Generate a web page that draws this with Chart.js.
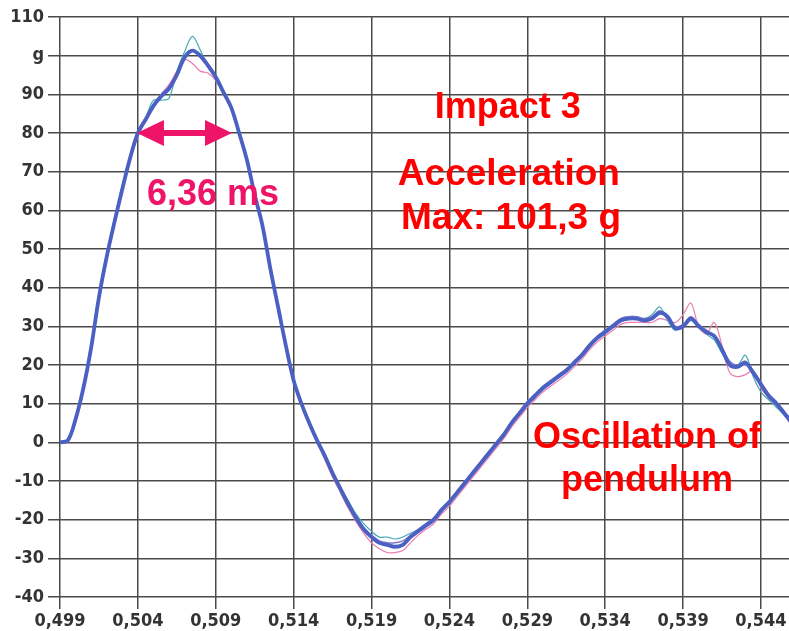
<!DOCTYPE html>
<html>
<head>
<meta charset="utf-8">
<script src="https://cdn.jsdelivr.net/npm/chart.js@4.4.1/dist/chart.umd.min.js"></script>
<style>
    html, body { margin: 0; padding: 0; background: #fff; overflow: hidden; }
</style>
</head>
<body>
<canvas id="chart" width="789" height="631"></canvas>
<script>
"use strict";

// time in s (x axis)
const times = [
    0.4990, 0.4995, 0.5000, 0.5005, 0.5010, 0.5015, 0.5020, 0.5025, 0.5030, 0.5035,
    0.5040, 0.5045, 0.5050, 0.5055, 0.5060, 0.5065, 0.5070, 0.5075, 0.5080, 0.5085,
    0.5090, 0.5095, 0.5100, 0.5105, 0.5110, 0.5115, 0.5120, 0.5125, 0.5130, 0.5135,
    0.5140, 0.5145, 0.5150, 0.5155, 0.5160, 0.5165, 0.5170, 0.5175, 0.5180, 0.5185,
    0.5190, 0.5195, 0.5200, 0.5205, 0.5210, 0.5215, 0.5220, 0.5225, 0.5230, 0.5235,
    0.5240, 0.5245, 0.5250, 0.5255, 0.5260, 0.5265, 0.5270, 0.5275, 0.5280, 0.5285,
    0.5290, 0.5295, 0.5300, 0.5305, 0.5310, 0.5315, 0.5320, 0.5325, 0.5330, 0.5335,
    0.5340, 0.5345, 0.5350, 0.5355, 0.5360, 0.5365, 0.5370, 0.5375, 0.5380, 0.5385,
    0.5390, 0.5395, 0.5400, 0.5405, 0.5410, 0.5415, 0.5420, 0.5425, 0.5430, 0.5435,
    0.5440, 0.5445, 0.5450, 0.5455, 0.5460
];

// acceleration in g, main (thick blue) trace
const accelMain = [
    0, 0.5, 6, 14, 24.5, 37.5, 48, 57, 65.5, 73.5,
    80, 83.5, 87, 89.5, 91.5, 95, 99.5, 101.3, 100, 97.5,
    94.5, 90.5, 86.5, 80, 73, 64, 56, 45, 35, 25,
    16, 10, 5, 0.5, -3.5, -8, -12, -16, -19.5, -22.5,
    -24.5, -26, -26.5, -27, -26.5, -24.5, -23, -21.5, -20, -17.5,
    -15.5, -13, -10.5, -8, -5.5, -3, -0.5, 2, 5, 7.5,
    10, 12, 14, 15.5, 17, 18.5, 20.5, 22.5, 25, 27,
    28.5, 30, 31.5, 32, 32, 31.5, 32, 33.5, 32.5, 29.5,
    30, 32, 30, 28.5, 27.5, 24, 20, 19.5, 20.5, 18,
    15, 12, 10, 7.5, 5
];

const accelViolet = [
    0, 0.5, 6, 14.5, 25, 38, 48.5, 57.5, 66, 74,
    80.5, 84, 87.5, 90, 92, 95.5, 100, 101.5, 99.5, 97,
    94, 90.5, 86.5, 80, 73, 64.5, 56, 45, 35, 25,
    16, 10, 5, 0.5, -3.5, -7.5, -11.5, -15.5, -19, -22,
    -24, -25.5, -26, -26, -25.5, -24, -22.5, -21, -19.5, -17,
    -15, -12.5, -10, -7.5, -5, -2.5, 0, 2.5, 5.5, 8,
    10.5, 12.5, 14.5, 16, 17.5, 19, 21, 23, 25.5, 27.5,
    29, 30.5, 32, 32.5, 32.5, 32, 32.5, 34, 32.5, 30,
    30.5, 32.5, 30.5, 29, 27.5, 24.5, 21, 20, 21, 18.5,
    15.5, 12.5, 10.5, 8, 5.5
];

const accelCyan = [
    0, 0.5, 6.5, 15, 25.5, 38.5, 49, 58, 66.5, 74,
    80.5, 84, 88.5, 88.5, 89, 96, 101, 105, 101.5, 97,
    94, 90, 86, 79.5, 72.5, 63.5, 55.5, 44.5, 35, 25.5,
    16.5, 10.5, 5.5, 1, -3, -7.5, -11.5, -15, -18.5, -21,
    -23, -24.5, -24.5, -25, -24.5, -23.5, -22.5, -21, -19.5, -17,
    -15, -12.5, -10, -7.5, -5, -2.5, 0, 2.5, 5.5, 8,
    10.5, 12.5, 14.5, 16, 17.5, 19, 21, 23, 25.5, 27.5,
    29, 30.5, 32, 32.5, 32.5, 32, 33, 35, 31.5, 29,
    30.5, 31.5, 30.5, 28, 26.5, 23, 20.5, 20, 22.5, 17,
    13, 11, 9, 7, 4.5
];

const accelPink = [
    0, 0, 5, 13, 23.5, 36.5, 47, 56.5, 65, 73,
    79, 83, 86.5, 90, 92.5, 96, 99, 98, 96, 95.5,
    93.5, 90, 86, 80.5, 73.5, 64.5, 56.5, 45.5, 35.5, 25,
    15.5, 9.5, 4.5, 0, -4.5, -9, -13, -17, -20.5, -23.5,
    -26, -27.5, -28.5, -28.5, -28, -26, -24, -22.5, -21, -18.5,
    -16.5, -14, -11.5, -9, -6.5, -4, -1.5, 1, 4, 6.5,
    9, 11, 13, 14.5, 16, 17.5, 19.5, 21.5, 24, 26,
    27.5, 29, 30.5, 31, 31, 31, 31, 32, 31.5, 31,
    33, 36, 30, 28, 31, 25, 18, 17, 17.5, 18.5,
    14, 11.5, 9.5, 7, 4
];

const xTicks = [0.499, 0.504, 0.509, 0.514, 0.519, 0.524, 0.529, 0.534, 0.539, 0.544];
const yTicks = [-40, -30, -20, -10, 0, 10, 20, 30, 40, 50, 60, 70, 80, 90, 100, 110];
const yTickLabels = ["-40", "-30", "-20", "-10", "0", "10", "20", "30", "40", "50",
    "60", "70", "80", "90", "g", "110"];

const toPoints = values => values.map((v, i) => ({ x: times[i], y: v }));

const redFont = "bold 36px 'Liberation Sans', Arial, sans-serif";

// texts and the width arrow, placed in data units
const annotations = {
    id: "annotations",
    afterDraw(chart) {
        const ctx = chart.ctx;
        const xs = chart.scales.x;
        const ys = chart.scales.y;
        const X = v => xs.getPixelForValue(v);
        const Y = v => ys.getPixelForValue(v);
        ctx.save();

        // double arrow 6,36 ms at 80 g
        const ax0 = X(0.50394), ax1 = X(0.51004), ay = Y(80);
        const head = 27, half = 13;
        ctx.fillStyle = "#ee1467";
        ctx.strokeStyle = "#ee1467";
        ctx.lineWidth = 6;
        ctx.beginPath();
        ctx.moveTo(ax0 + head - 2, ay);
        ctx.lineTo(ax1 - head + 2, ay);
        ctx.stroke();
        ctx.beginPath();
        ctx.moveTo(ax0, ay);
        ctx.lineTo(ax0 + head, ay - half);
        ctx.lineTo(ax0 + head, ay + half);
        ctx.closePath();
        ctx.fill();
        ctx.beginPath();
        ctx.moveTo(ax1, ay);
        ctx.lineTo(ax1 - head, ay - half);
        ctx.lineTo(ax1 - head, ay + half);
        ctx.closePath();
        ctx.fill();

        ctx.textBaseline = "alphabetic";
        ctx.font = "bold 36px 'Liberation Sans', Arial, sans-serif";
        ctx.textAlign = "left";
        ctx.fillText("6,36 ms", X(0.50458), Y(61.3));

        ctx.fillStyle = "#ff0000";
        ctx.font = redFont;
        ctx.textAlign = "center";
        ctx.fillText("Impact 3", X(0.52775), Y(84));
        ctx.textAlign = "left";
        ctx.font = "bold 37px 'Liberation Sans', Arial, sans-serif";
        ctx.fillText("Acceleration", X(0.52069), Y(66.5));
        ctx.fillText("Max: 101,3 g", X(0.52089), Y(55.3));
        ctx.font = redFont;
        ctx.textAlign = "center";
        ctx.fillText("Oscillation of", X(0.53668), Y(-1.5));
        ctx.fillText("pendulum", X(0.53668), Y(-12.7));
        ctx.restore();
    }
};

const lineStyle = {
    pointRadius: 0,
    tension: 0.35,
    fill: false
};

new Chart(document.getElementById("chart"), {
    type: "line",
    data: {
        datasets: [
            Object.assign({ data: toPoints(accelMain), borderColor: "#4a60c2", borderWidth: 3.8 }, lineStyle),
            Object.assign({ data: toPoints(accelViolet), borderColor: "#8077cc", borderWidth: 1.5 }, lineStyle),
            Object.assign({ data: toPoints(accelCyan), borderColor: "#45a9b6", borderWidth: 1.2 }, lineStyle),
            Object.assign({ data: toPoints(accelPink), borderColor: "#ea7eae", borderWidth: 1.2 }, lineStyle),
        ]
    },
    options: {
        responsive: false,
        animation: false,
        layout: { padding: { top: 17, right: 0, left: 0, bottom: 0 } },
        plugins: {
            legend: { display: false },
            tooltip: { enabled: false }
        },
        scales: {
            x: {
                type: "linear",
                min: 0.499,
                max: 0.5458,
                afterBuildTicks: scale => { scale.ticks = xTicks.map(v => ({ value: v })); },
                afterFit: scale => { scale.height = 34; },
                grid: { color: "#4a4a4a", lineWidth: 1.5, tickLength: 12 },
                border: { display: false },
                ticks: {
                    padding: 2,
                    maxRotation: 0,
                    autoSkip: false,
                    color: "#333",
                    font: { family: "'DejaVu Sans Condensed', 'DejaVu Sans'", weight: "bold", size: 18 },
                    callback: v => v.toFixed(3).replace(".", ",")
                }
            },
            y: {
                min: -40,
                max: 110,
                afterBuildTicks: scale => { scale.ticks = yTicks.map(v => ({ value: v })); },
                afterFit: scale => { scale.width = 60; },
                grid: { color: "#4a4a4a", lineWidth: 1.5, tickLength: 12 },
                border: { display: false },
                ticks: {
                    padding: 4,
                    color: "#333",
                    font: { family: "'DejaVu Sans Condensed', 'DejaVu Sans'", weight: "bold", size: 18 },
                    callback: v => yTickLabels[yTicks.indexOf(v)]
                }
            }
        }
    },
    plugins: [annotations]
});
</script>
</body>
</html>
